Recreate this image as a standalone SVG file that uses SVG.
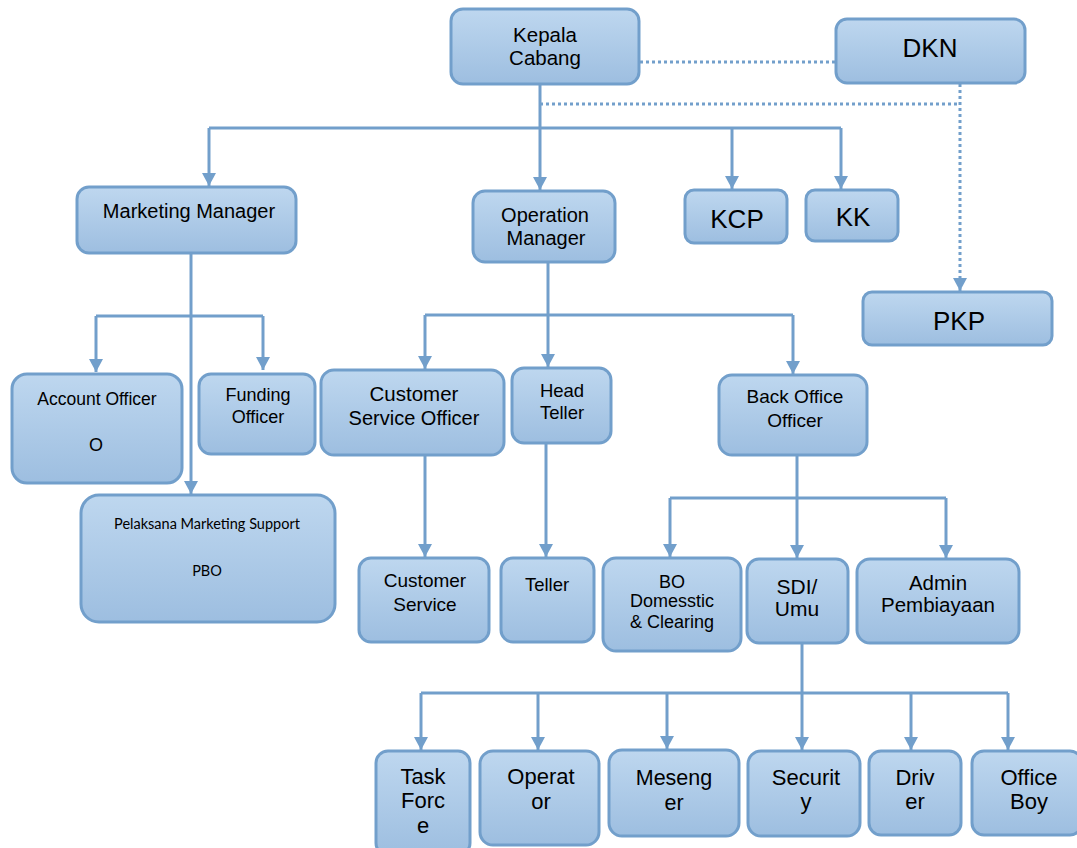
<svg xmlns="http://www.w3.org/2000/svg" width="1077" height="848" viewBox="0 0 1077 848">
  <defs>
    <linearGradient id="boxFill" x1="0" y1="0" x2="0" y2="1">
      <stop offset="0" stop-color="#bed7ef"/>
      <stop offset="1" stop-color="#9dbee0"/>
    </linearGradient>
    <marker id="arrow" markerUnits="userSpaceOnUse" markerWidth="14" markerHeight="14" refX="13" refY="7" orient="auto">
      <path d="M0,0 L13,7 L0,14 z" fill="#729fcb"/>
    </marker>
    <style>
      .box { fill: url(#boxFill); stroke: #729fcb; stroke-width: 3; }
      .lbl { font-family: "Liberation Sans", Arial, sans-serif; fill: #000; text-anchor: middle; }
      .small { font-family: Lato, "Open Sans", sans-serif; fill: #000; text-anchor: middle; font-size: 14.5px; }
      .line { fill: none; stroke: #729fcb; stroke-width: 3; }
      .dot { fill: none; stroke: #729fcb; stroke-width: 3; stroke-dasharray: 3 3; }
    </style>
  </defs>

  <!-- connectors -->
  <g id="connectors">
    <path class="dot" d="M640,62 H836"/>
    <path class="dot" d="M540,104 H960"/>
    <path class="dot" d="M960,84 V291" marker-end="url(#arrow)"/>

    <path class="line" d="M540,85 V190" marker-end="url(#arrow)"/>
    <path class="line" d="M209,128 H841"/>
    <path class="line" d="M209,128 V186" marker-end="url(#arrow)"/>
    <path class="line" d="M732,128 V189" marker-end="url(#arrow)"/>
    <path class="line" d="M841,128 V189" marker-end="url(#arrow)"/>

    <path class="line" d="M191,253 V494" marker-end="url(#arrow)"/>
    <path class="line" d="M96,316 H263"/>
    <path class="line" d="M96,316 V372" marker-end="url(#arrow)"/>
    <path class="line" d="M263,316 V370" marker-end="url(#arrow)"/>

    <path class="line" d="M548,262 V367" marker-end="url(#arrow)"/>
    <path class="line" d="M425,315 H793"/>
    <path class="line" d="M425,315 V369" marker-end="url(#arrow)"/>
    <path class="line" d="M793,315 V374" marker-end="url(#arrow)"/>

    <path class="line" d="M425,455 V557" marker-end="url(#arrow)"/>
    <path class="line" d="M546,443 V557" marker-end="url(#arrow)"/>

    <path class="line" d="M797,455 V558" marker-end="url(#arrow)"/>
    <path class="line" d="M670,498 H946"/>
    <path class="line" d="M670,498 V557" marker-end="url(#arrow)"/>
    <path class="line" d="M946,498 V558" marker-end="url(#arrow)"/>

    <path class="line" d="M802,643 V750" marker-end="url(#arrow)"/>
    <path class="line" d="M421,693 H1008"/>
    <path class="line" d="M421,693 V750" marker-end="url(#arrow)"/>
    <path class="line" d="M538,693 V750" marker-end="url(#arrow)"/>
    <path class="line" d="M667,693 V749" marker-end="url(#arrow)"/>
    <path class="line" d="M911,693 V750" marker-end="url(#arrow)"/>
    <path class="line" d="M1008,693 V750" marker-end="url(#arrow)"/>
  </g>

  <!-- nodes -->
  <g id="kepala-cabang">
    <rect class="box" x="451" y="9" width="188" height="75" rx="12"/>
    <text class="lbl" x="545" y="42" font-size="20.5">Kepala</text>
    <text class="lbl" x="545" y="65" font-size="20.5">Cabang</text>
  </g>
  <g id="dkn">
    <rect class="box" x="836" y="19" width="189" height="64" rx="11"/>
    <text class="lbl" x="930" y="57" font-size="26">DKN</text>
  </g>
  <g id="marketing-manager">
    <rect class="box" x="77" y="187" width="219" height="66" rx="12"/>
    <text class="lbl" x="189" y="218" font-size="20">Marketing Manager</text>
  </g>
  <g id="operation-manager">
    <rect class="box" x="473" y="191" width="142" height="71" rx="12"/>
    <text class="lbl" x="545" y="222" font-size="20">Operation</text>
    <text class="lbl" x="546" y="245" font-size="20">Manager</text>
  </g>
  <g id="kcp">
    <rect class="box" x="685" y="190" width="102" height="53" rx="9"/>
    <text class="lbl" x="737" y="228" font-size="26">KCP</text>
  </g>
  <g id="kk">
    <rect class="box" x="806" y="190" width="92" height="51" rx="9"/>
    <text class="lbl" x="853" y="226" font-size="26">KK</text>
  </g>
  <g id="pkp">
    <rect class="box" x="863" y="292" width="189" height="53" rx="9"/>
    <text class="lbl" x="959" y="330" font-size="26">PKP</text>
  </g>
  <g id="account-officer">
    <rect class="box" x="12" y="374" width="170" height="109" rx="15"/>
    <text class="lbl" x="97" y="405" font-size="17.5">Account Officer</text>
    <text class="lbl" x="96" y="451" font-size="18">O</text>
  </g>
  <g id="funding-officer">
    <rect class="box" x="199" y="374" width="116" height="80" rx="12"/>
    <text class="lbl" x="258" y="401" font-size="18">Funding</text>
    <text class="lbl" x="258" y="423" font-size="18">Officer</text>
  </g>
  <g id="pelaksana-marketing-support">
    <rect class="box" x="81" y="495" width="254" height="127" rx="18"/>
    <text class="small" x="207" y="529">Pelaksana Marketing Support</text>
    <text class="small" x="207" y="576">PBO</text>
  </g>
  <g id="customer-service-officer">
    <rect class="box" x="321" y="370" width="183" height="85" rx="13"/>
    <text class="lbl" x="414" y="401" font-size="20.5">Customer</text>
    <text class="lbl" x="414" y="425" font-size="20">Service Officer</text>
  </g>
  <g id="head-teller">
    <rect class="box" x="512" y="368" width="99" height="75" rx="12"/>
    <text class="lbl" x="562" y="397" font-size="18.5">Head</text>
    <text class="lbl" x="562" y="419" font-size="18.5">Teller</text>
  </g>
  <g id="back-office-officer">
    <rect class="box" x="719" y="375" width="148" height="80" rx="13"/>
    <text class="lbl" x="795" y="403" font-size="19">Back Office</text>
    <text class="lbl" x="795" y="427" font-size="19">Officer</text>
  </g>
  <g id="customer-service">
    <rect class="box" x="359" y="558" width="130" height="84" rx="12"/>
    <text class="lbl" x="425" y="587" font-size="19">Customer</text>
    <text class="lbl" x="425" y="611" font-size="19">Service</text>
  </g>
  <g id="teller">
    <rect class="box" x="501" y="558" width="93" height="84" rx="12"/>
    <text class="lbl" x="547" y="591" font-size="18.5">Teller</text>
  </g>
  <g id="bo-domestic-clearing">
    <rect class="box" x="603" y="558" width="138" height="93" rx="13"/>
    <text class="lbl" x="672" y="588" font-size="18">BO</text>
    <text class="lbl" x="672" y="607" font-size="18">Domesstic</text>
    <text class="lbl" x="672" y="628" font-size="18">&amp; Clearing</text>
  </g>
  <g id="sdi-umum">
    <rect class="box" x="747" y="559" width="101" height="84" rx="12"/>
    <text class="lbl" x="797" y="594" font-size="21">SDI/</text>
    <text class="lbl" x="797" y="616" font-size="21">Umu</text>
  </g>
  <g id="admin-pembiayaan">
    <rect class="box" x="857" y="559" width="162" height="84" rx="13"/>
    <text class="lbl" x="938" y="590" font-size="20.5">Admin</text>
    <text class="lbl" x="938" y="612" font-size="20.5">Pembiayaan</text>
  </g>
  <g id="task-force">
    <rect class="box" x="376" y="751" width="94" height="104" rx="12"/>
    <text class="lbl" x="423" y="784" font-size="22">Task</text>
    <text class="lbl" x="423" y="808" font-size="22">Forc</text>
    <text class="lbl" x="423" y="833" font-size="22">e</text>
  </g>
  <g id="operator">
    <rect class="box" x="480" y="751" width="119" height="94" rx="13"/>
    <text class="lbl" x="541" y="784" font-size="22">Operat</text>
    <text class="lbl" x="541" y="809" font-size="22">or</text>
  </g>
  <g id="mesenger">
    <rect class="box" x="609" y="750" width="130" height="86" rx="13"/>
    <text class="lbl" x="674" y="785" font-size="21.5">Meseng</text>
    <text class="lbl" x="674" y="810" font-size="21.5">er</text>
  </g>
  <g id="security">
    <rect class="box" x="748" y="751" width="112" height="85" rx="13"/>
    <text class="lbl" x="806" y="785" font-size="22">Securit</text>
    <text class="lbl" x="806" y="809" font-size="22">y</text>
  </g>
  <g id="driver">
    <rect class="box" x="869" y="751" width="92" height="84" rx="12"/>
    <text class="lbl" x="915" y="785" font-size="22">Driv</text>
    <text class="lbl" x="915" y="809" font-size="22">er</text>
  </g>
  <g id="office-boy">
    <rect class="box" x="972" y="751" width="110" height="84" rx="12"/>
    <text class="lbl" x="1029" y="785" font-size="22">Office</text>
    <text class="lbl" x="1029" y="809" font-size="22">Boy</text>
  </g>
</svg>
